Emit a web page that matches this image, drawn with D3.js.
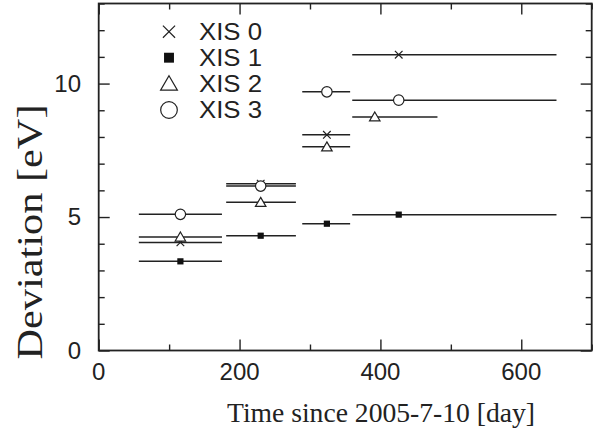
<!DOCTYPE html>
<html><head><meta charset="utf-8">
<script src="https://cdn.jsdelivr.net/npm/d3@7"></script>
<style>body{margin:0;background:#fff}svg{display:block}</style>
</head><body>
<script>
// ---- data ----
const seriesNames = ["XIS 0", "XIS 1", "XIS 2", "XIS 3"];
const xis0X  = [116, 230, 324, 426];
const xis0Lo = [57, 181, 289, 360];
const xis0Hi = [175, 280, 357, 650];
const xis0Y  = [4.05, 6.25, 8.08, 11.08];
const xis1X  = [116, 230, 324, 426];
const xis1Lo = [57, 181, 289, 360];
const xis1Hi = [175, 280, 357, 650];
const xis1Y  = [3.34, 4.30, 4.75, 5.09];
const xis2X  = [116, 230, 324, 392];
const xis2Lo = [57, 181, 289, 360];
const xis2Hi = [175, 280, 357, 481];
const xis2Y  = [4.25, 5.55, 7.63, 8.75];
const xis3X  = [116, 230, 324, 426];
const xis3Lo = [57, 181, 289, 360];
const xis3Hi = [175, 280, 357, 650];
const xis3Y  = [5.10, 6.16, 9.69, 9.38];
const xMajorTicks = [0, 200, 400, 600];
const xMinorTicks = [100, 300, 500, 700];
const yMajorTicks = [0, 5, 10];
const yMinorTicks = [1,2,3,4,6,7,8,9,11,12,13];
const xTitle = "Time since 2005-7-10 [day]";
const yTitle = "Deviation [eV]";

const series = [
  {name: seriesNames[0], sym: "x", x: xis0X, lo: xis0Lo, hi: xis0Hi, y: xis0Y},
  {name: seriesNames[1], sym: "sq", x: xis1X, lo: xis1Lo, hi: xis1Hi, y: xis1Y},
  {name: seriesNames[2], sym: "tri", x: xis2X, lo: xis2Lo, hi: xis2Hi, y: xis2Y},
  {name: seriesNames[3], sym: "circ", x: xis3X, lo: xis3Lo, hi: xis3Hi, y: xis3Y}
];

const W = 596, H = 429;
const L = 98.7, R = 591.7, T = 3.5, B = 350.5;
const ink = "#222";
const x = d3.scaleLinear().domain([0, 700]).range([L, R]);
const y = d3.scaleLinear().domain([0, 13]).range([B, T]);

const svg = d3.select("body").append("svg").attr("width", W).attr("height", H);

// frame
svg.append("rect").attr("x", L).attr("y", T).attr("width", R - L).attr("height", B - T)
  .attr("fill", "none").attr("stroke", ink).attr("stroke-width", 1.8);

// ticks (inward, all four sides) via d3 axes
function tickAxis(axisFn, scale, vals, len, transform) {
  const g = svg.append("g").attr("transform", transform)
    .call(axisFn(scale).tickValues(vals).tickSize(-len).tickFormat(""));
  g.select(".domain").remove();
  g.selectAll(".tick line").attr("stroke", ink).attr("stroke-width", 1.4);
}
tickAxis(d3.axisBottom, x, xMajorTicks, 11, `translate(0,${B})`);
tickAxis(d3.axisBottom, x, xMinorTicks, 6, `translate(0,${B})`);
tickAxis(d3.axisTop, x, xMajorTicks, 11, `translate(0,${T})`);
tickAxis(d3.axisTop, x, xMinorTicks, 6, `translate(0,${T})`);
tickAxis(d3.axisLeft, y, yMajorTicks, 11, `translate(${L},0)`);
tickAxis(d3.axisLeft, y, yMinorTicks, 6, `translate(${L},0)`);
tickAxis(d3.axisRight, y, yMajorTicks, 11, `translate(${R},0)`);
tickAxis(d3.axisRight, y, yMinorTicks, 6, `translate(${R},0)`);

// tick labels
const sans = "'Liberation Sans', Arial, Helvetica, sans-serif";
const serif = "'Liberation Serif', 'Times New Roman', serif";
svg.append("g").selectAll("text").data(xMajorTicks).join("text")
  .attr("x", d => x(d)).attr("y", 380).attr("text-anchor", "middle")
  .attr("font-family", sans).attr("font-size", 24).attr("fill", ink)
  .text(d => d);
svg.append("g").selectAll("text").data(yMajorTicks).join("text")
  .attr("x", 81).attr("y", d => y(d) + 8.3).attr("text-anchor", "end")
  .attr("font-family", sans).attr("font-size", 24).attr("fill", ink)
  .text(d => d);

// titles
svg.append("text").attr("x", 381).attr("y", 421.5).attr("text-anchor", "middle")
  .attr("font-family", serif).attr("font-size", 28).attr("fill", ink)
  .attr("textLength", 308).attr("lengthAdjust", "spacingAndGlyphs").text(xTitle);
svg.append("text").attr("transform", "translate(42,232) rotate(-90)").attr("text-anchor", "middle")
  .attr("font-family", serif).attr("font-size", 35).attr("fill", ink)
  .attr("textLength", 255).attr("lengthAdjust", "spacingAndGlyphs").text(yTitle);

// marker drawing
function drawMarker(g, sym, cx, cy, s) {
  if (sym === "x") {
    const a = 3.8 * s;
    g.append("path").attr("d", `M${cx-a},${cy-a}L${cx+a},${cy+a}M${cx-a},${cy+a}L${cx+a},${cy-a}`)
      .attr("stroke", ink).attr("stroke-width", 1.2).attr("fill", "none");
  } else if (sym === "sq") {
    const a = 3.1 * s;
    g.append("rect").attr("x", cx - a).attr("y", cy - a).attr("width", 2 * a).attr("height", 2 * a)
      .attr("fill", "#111");
  } else if (sym === "tri") {
    const a = 5 * s;
    g.append("path").attr("d", `M${cx},${cy-a}L${cx+a*1.05},${cy+a*0.8}L${cx-a*1.05},${cy+a*0.8}Z`)
      .attr("stroke", ink).attr("stroke-width", 1.2).attr("fill", "#fff");
  } else {
    g.append("circle").attr("cx", cx).attr("cy", cy).attr("r", 5.2 * s)
      .attr("stroke", ink).attr("stroke-width", 1.2).attr("fill", "#fff");
  }
}

// data: horizontal bars + markers
const plot = svg.append("g");
series.forEach(s => {
  s.y.forEach((v, i) => {
    plot.append("line").attr("x1", x(s.lo[i])).attr("x2", x(s.hi[i]))
      .attr("y1", y(v)).attr("y2", y(v)).attr("stroke", ink).attr("stroke-width", 1.5);
  });
});
series.forEach(s => {
  s.y.forEach((v, i) => drawMarker(plot, s.sym, x(s.x[i]), y(v), 1));
});

// legend
const lg = svg.append("g");
const rowY = [31.7, 57.7, 83.7, 110];
series.forEach((s, i) => {
  drawMarker(lg, s.sym, 169, rowY[i], 1.6);
  lg.append("text").attr("x", 199).attr("y", rowY[i] + 8.2)
    .attr("font-family", sans).attr("font-size", 24).attr("fill", ink)
    .attr("textLength", 63).attr("lengthAdjust", "spacingAndGlyphs").text(s.name);
});
</script>
</body></html>
